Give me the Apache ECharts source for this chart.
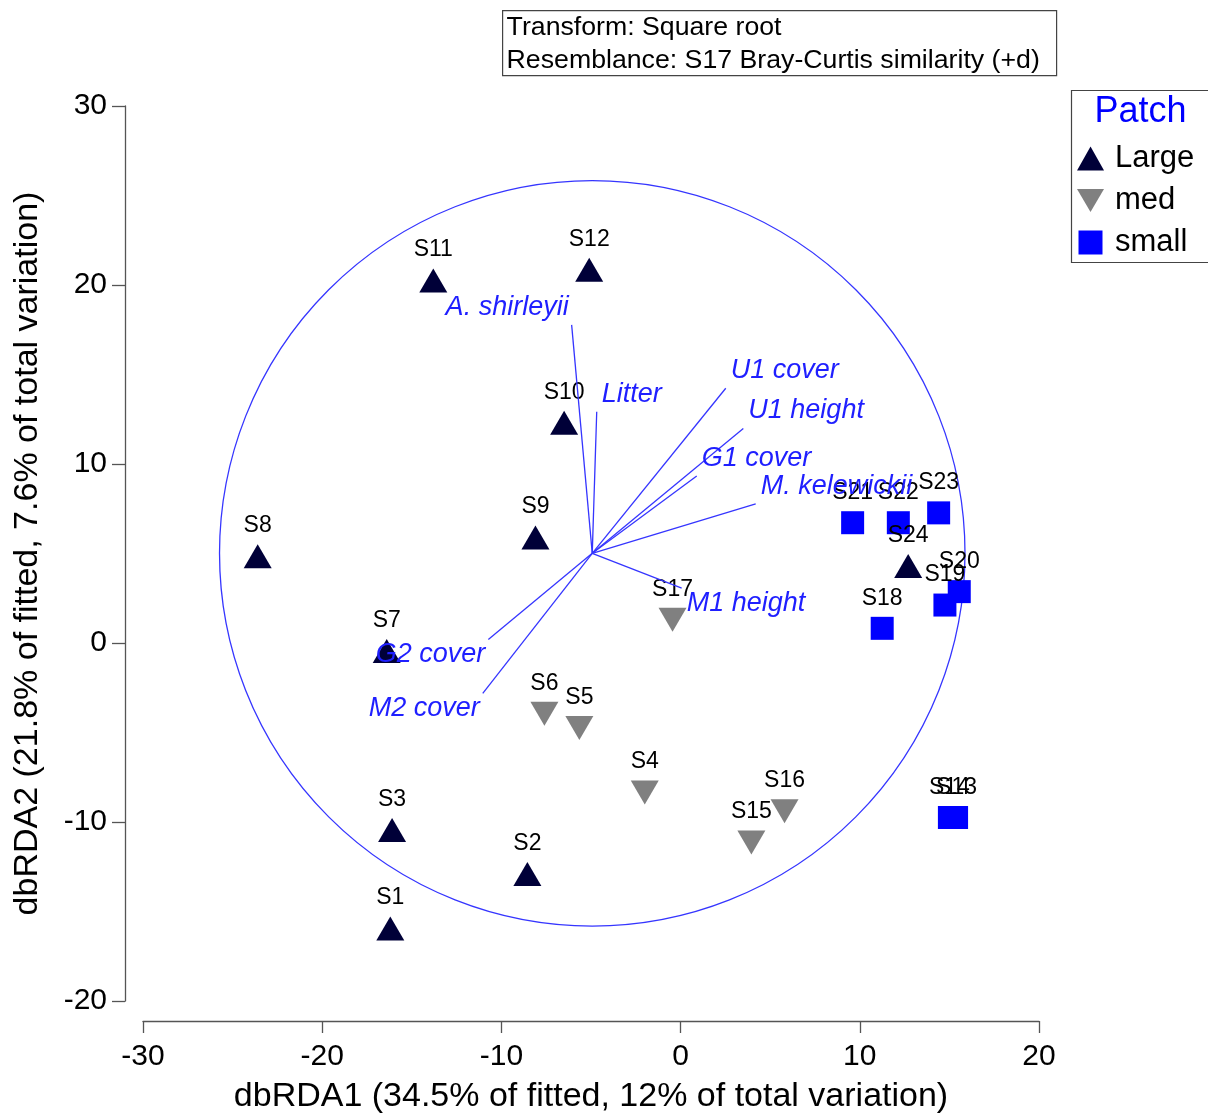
<!DOCTYPE html>
<html>
<head>
<meta charset="utf-8">
<script src="https://cdn.jsdelivr.net/npm/echarts@6/dist/echarts.min.js"></script>
<style>
  html, body { margin: 0; padding: 0; background: #fff; }
  #chart { width: 1208px; height: 1115px; }
</style>
</head>
<body>
<div id="chart"></div>
<script>
// Sample scores on the first two dbRDA axes, by patch size
const largeNames = ['S1', 'S2', 'S3', 'S7', 'S8', 'S9', 'S10', 'S11', 'S12', 'S24'];
const largeX = [-16.2, -8.55, -16.1, -16.4, -23.6, -8.1, -6.5, -13.8, -5.1, 12.7];
const largeY = [-15.95, -12.9, -10.45, -0.45, 4.85, 5.9, 12.3, 20.25, 20.85, 4.3];

const medNames = ['S4', 'S5', 'S6', 'S15', 'S16', 'S17'];
const medX = [-2.0, -5.65, -7.6, 3.95, 5.8, -0.45];
const medY = [-8.35, -4.75, -3.95, -11.15, -9.4, 1.3];

const smallNames = ['S13', 'S14', 'S18', 'S19', 'S20', 'S21', 'S22', 'S23'];
const smallX = [15.4, 15.0, 11.25, 14.75, 15.55, 9.6, 12.15, 14.4];
const smallY = [-9.75, -9.75, 0.82, 2.12, 2.87, 6.72, 6.72, 7.27];

// Predictor vectors (end points), all drawn from a common origin
const vecOrigin = [-4.93, 5.01];
const vecNames = ['A. shirleyii', 'Litter', 'U1 cover', 'U1 height', 'G1 cover', 'M. kelewickii', 'M1 height', 'G2 cover', 'M2 cover'];
const vecX = [-6.08, -4.68, 2.52, 3.5, 0.9, 4.19, 0.06, -10.73, -11.04];
const vecY = [17.77, 12.92, 14.23, 11.99, 9.33, 7.77, 3.07, 0.2, -2.81];

// Correlation circle radius
const circleRadius = 20.8;

// Axis ticks
const xTicks = { min: -30, max: 20, step: 10 };
const yTicks = { min: -20, max: 30, step: 10 };

const FONT = '"Liberation Sans", Arial, sans-serif';
const NAVY = '#000038';
const GREY = '#808080';
const BLUE = '#0000ff';
const VEC_BLUE = '#3535ff';

function zip(names, xs, ys) {
  return names.map((n, i) => [xs[i], ys[i], n]);
}

const pointLabel = {
  show: true,
  position: 'top',
  distance: 7,
  formatter: p => p.data[2],
  fontFamily: FONT,
  fontSize: 23,
  color: '#000'
};

const vecData = vecNames.map((n, i) => [vecOrigin[0], vecOrigin[1], vecX[i], vecY[i], n]);

const chart = echarts.init(document.getElementById('chart'), null, { renderer: 'canvas' });

chart.setOption({
  animation: false,
  backgroundColor: '#fff',
  grid: { left: 143, right: 169, top: 106, bottom: 114, outerBoundsMode: 'none', containLabel: false },
  xAxis: {
    type: 'value',
    min: xTicks.min, max: xTicks.max, interval: xTicks.step,
    offset: 20,
    axisLine: { show: true, onZero: false, lineStyle: { color: '#555', width: 1.3 } },
    axisTick: { show: true, length: 12, lineStyle: { color: '#555', width: 1.3 } },
    splitLine: { show: false },
    axisLabel: { fontFamily: FONT, fontSize: 30, color: '#000', margin: 21 },
    name: 'dbRDA1 (34.5% of fitted, 12% of total variation)',
    nameLocation: 'middle',
    nameGap: 59,
    nameTextStyle: { fontFamily: FONT, fontSize: 34, color: '#000' }
  },
  yAxis: {
    type: 'value',
    min: yTicks.min, max: yTicks.max, interval: yTicks.step,
    offset: 18,
    axisLine: { show: true, onZero: false, lineStyle: { color: '#555', width: 1.3 } },
    axisTick: { show: true, length: 13, lineStyle: { color: '#555', width: 1.3 } },
    splitLine: { show: false },
    axisLabel: { fontFamily: FONT, fontSize: 30, color: '#000', margin: 18 },
    name: 'dbRDA2 (21.8% of fitted, 7.6% of total variation)',
    nameLocation: 'middle',
    nameGap: 80,
    nameTextStyle: { fontFamily: FONT, fontSize: 34, color: '#000' }
  },
  legend: {
    orient: 'vertical',
    left: 1072,
    top: 138,
    itemWidth: 27,
    itemHeight: 24,
    itemGap: 11,
    textStyle: { fontFamily: FONT, fontSize: 31, color: '#000', padding: [0, 0, 0, 6] },
    data: [
      { name: 'Large', icon: 'triangle' },
      { name: 'med', icon: 'path://M0,0 L10,0 L5,8.6 Z' },
      { name: 'small', icon: 'path://M0,0 L10,0 L10,10 L0,10 Z' }
    ]
  },
  graphic: [
    {
      type: 'group', left: 502, top: 10,
      children: [
        { type: 'rect', shape: { x: 0, y: 0, width: 554, height: 65 },
          style: { fill: '#fff', stroke: '#444', lineWidth: 1.2 } },
        { type: 'text', x: 4, y: 17, style: { text: 'Transform: Square root', fontFamily: FONT, fontSize: 26.7, fill: '#000', verticalAlign: 'middle' } },
        { type: 'text', x: 4, y: 50, style: { text: 'Resemblance: S17 Bray-Curtis similarity (+d)', fontFamily: FONT, fontSize: 26.7, fill: '#000', verticalAlign: 'middle' } }
      ]
    },
    {
      type: 'group', left: 1069, top: 88,
      children: [
        { type: 'rect', shape: { x: 0, y: 0, width: 138, height: 172 },
          style: { fill: 'none', stroke: '#444', lineWidth: 1.2 } },
        { type: 'text', x: 69, y: 22, style: { text: 'Patch', fontFamily: FONT, fontSize: 36, fill: BLUE, align: 'center', verticalAlign: 'middle' } }
      ]
    }
  ],
  series: [
    {
      name: 'circle',
      type: 'custom',
      silent: true,
      z: 1,
      data: [[vecOrigin[0], vecOrigin[1], circleRadius]],
      renderItem: (params, api) => {
        const c = api.coord([api.value(0), api.value(1)]);
        const r = api.size([api.value(2), 0])[0];
        return {
          type: 'circle',
          shape: { cx: c[0], cy: c[1], r: r },
          style: { fill: 'none', stroke: VEC_BLUE, lineWidth: 1.3 }
        };
      }
    },
    {
      name: 'Large',
      type: 'scatter',
      z: 3,
      symbol: 'triangle',
      symbolSize: [28, 24],
      itemStyle: { color: NAVY, opacity: 1 },
      label: pointLabel,
      data: zip(largeNames, largeX, largeY)
    },
    {
      name: 'med',
      type: 'scatter',
      z: 3,
      symbol: 'triangle',
      symbolRotate: 180,
      symbolSize: [28, 24],
      itemStyle: { color: GREY, opacity: 1 },
      label: pointLabel,
      data: zip(medNames, medX, medY)
    },
    {
      name: 'small',
      type: 'scatter',
      z: 3,
      symbol: 'rect',
      symbolSize: [23, 23],
      itemStyle: { color: BLUE, opacity: 1 },
      label: pointLabel,
      data: zip(smallNames, smallX, smallY)
    },
    {
      name: 'vectors',
      type: 'custom',
      silent: true,
      z: 5,
      encode: { x: [0, 2], y: [1, 3] },
      data: vecData,
      renderItem: (params, api) => {
        const o = api.coord([api.value(0), api.value(1)]);
        const e = api.coord([api.value(2), api.value(3)]);
        const name = vecData[params.dataIndex][4];
        const right = api.value(2) >= api.value(0);
        const up = api.value(3) >= api.value(1);
        return {
          type: 'group',
          children: [
            { type: 'line', shape: { x1: o[0], y1: o[1], x2: e[0], y2: e[1] },
              style: { stroke: VEC_BLUE, lineWidth: 1.3 } },
            { type: 'text',
              x: e[0] + (right ? 5 : -3),
              y: e[1] + (up ? -4 : 2),
              style: {
                text: name,
                fontFamily: FONT, fontSize: 27, fontStyle: 'italic',
                fill: '#1f1fff',
                align: right ? 'left' : 'right',
                verticalAlign: up ? 'bottom' : 'top'
              } }
          ]
        };
      }
    }
  ]
});
</script>
</body>
</html>
